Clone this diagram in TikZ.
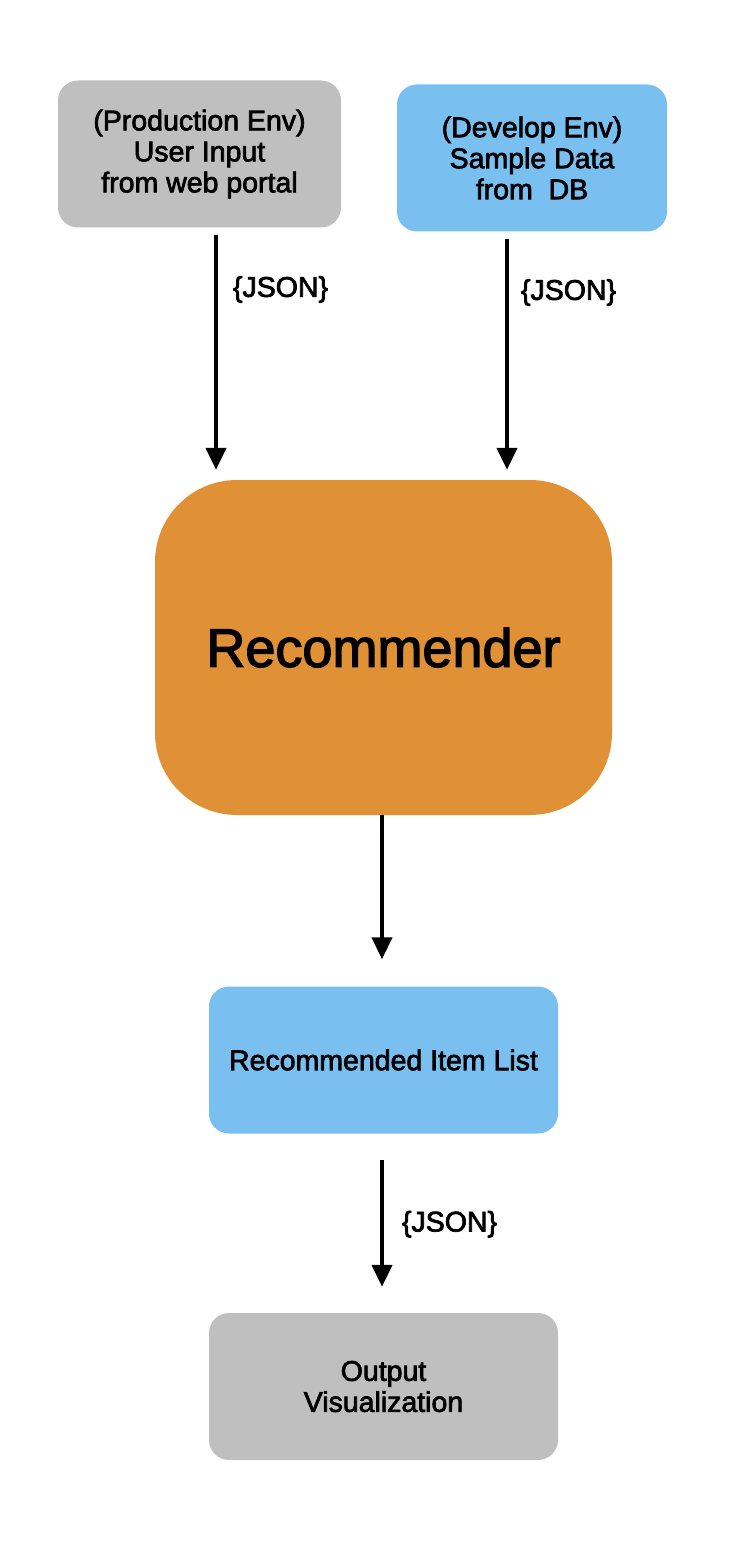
\documentclass[tikz,border=0pt]{standalone}
\usepackage{fontspec}
\setmainfont{Liberation Sans}
\newfontfamily\medfont{Liberation Sans}[FakeBold=2.5]
\usetikzlibrary{arrows.meta}
\definecolor{boxgray}{HTML}{BFBFBF}
\definecolor{boxblue}{HTML}{79C0F1}
\definecolor{boxorange}{HTML}{E09035}
\tikzset{
  smallbox/.style={rounded corners=20pt, minimum width=#1, minimum height=147pt, inner sep=0pt,
    align=center, font=\medfont\fontsize{28.5}{31}\selectfont},
  arr/.style={line width=4pt, -{Triangle[width=20pt,length=22pt]}},
  lbl/.style={font=\medfont\fontsize{28.5}{31}\selectfont, anchor=west, inner sep=0pt}
}
\begin{document}
\begin{tikzpicture}[x=1pt,y=-1pt]
\useasboundingbox (0,0) rectangle (738,1546);
\node[smallbox=283pt, fill=boxgray] (prod) at (199.5,154) {(Production Env)\\User Input\\from web portal};
\node[smallbox=270pt, fill=boxblue] (dev) at (532,158) {(Develop Env)\\Sample Data\\from~ DB};
\node[fill=boxorange, rounded corners=82pt, minimum width=457pt, minimum height=335pt, inner sep=0pt,
  font=\medfont\fontsize{54}{60}\selectfont] (rec) at (383.5,647.5) {Recommender};
\node[smallbox=349pt, fill=boxblue] (list) at (383.5,1060) {Recommended Item List};
\node[smallbox=349pt, fill=boxgray] (out) at (383.5,1386.5) {Output\\Visualization};

\draw[arr, shorten <=7pt, shorten >=10pt] ([xshift=16.5pt]prod.south) -- ([xshift=16.5pt]prod.south |- rec.north)
  node[lbl, pos=0.245, xshift=15pt] (j1) {\{JSON\}};
\draw[arr, shorten <=7pt, shorten >=10pt] ([xshift=-25pt]dev.south) -- ([xshift=-25pt]dev.south |- rec.north)
  node[lbl, pos=0.245, xshift=12pt] (j2) {\{JSON\}};
\draw[arr, shorten <=0pt, shorten >=27pt] ([xshift=-1.5pt]rec.south) -- ([xshift=-1.5pt]rec.south |- list.north);
\draw[arr, shorten <=26pt, shorten >=26pt] ([xshift=-1.5pt]list.south) -- ([xshift=-1.5pt]list.south |- out.north)
  node[lbl, pos=0.505, xshift=18pt] (j3) {\{JSON\}};
\end{tikzpicture}
\end{document}
